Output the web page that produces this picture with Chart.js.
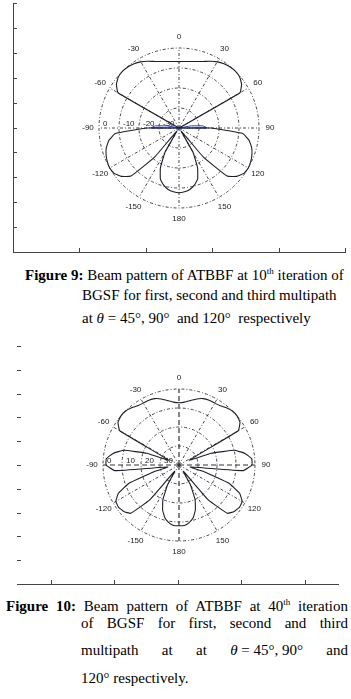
<!DOCTYPE html>
<html>
<head>
<meta charset="utf-8">
<script src="https://cdn.jsdelivr.net/npm/chart.js@4.4.0/dist/chart.umd.min.js"></script>
<style>
  body { margin: 0; background: #fff; width: 351px; height: 699px; position: relative; overflow: hidden;
         font-family: "Liberation Serif", "Times New Roman", serif; }
  .box { position: absolute; }
  .cap { position: absolute; font-size: 15px; line-height: 16px; color: #000; white-space: nowrap; }
  .just { white-space: normal; text-align: justify; text-align-last: justify; }
  .math { display: inline-block; white-space: nowrap; }
  sup { font-size: 9px; line-height: 0; vertical-align: 6px; }
</style>
</head>
<body>
<div class="box" style="left:0;top:0;width:351px;height:258px"><canvas id="frame9"></canvas></div>
<div class="box" style="left:69px;top:18px;width:220px;height:220px"><canvas id="polar9"></canvas></div>

<div class="cap" style="left:25px;top:267px"><b>Figure 9:</b> Beam pattern of ATBBF at 10<sup>th</sup> iteration of</div>
<div class="cap" style="left:82px;top:287px">BGSF for first, second and third multipath</div>
<div class="cap" style="left:82px;top:310px">at <i>θ</i> = 45°, 90° &nbsp;and 120° &nbsp;respectively</div>

<div class="box" style="left:0;top:330px;width:351px;height:262px"><canvas id="frame10"></canvas></div>
<div class="box" style="left:69px;top:355px;width:220px;height:220px"><canvas id="polar10"></canvas></div>

<div class="cap just" style="left:6px;top:598px;width:342px"><b>Figure 10:</b> Beam pattern of ATBBF at 40<sup>th</sup> iteration</div>
<div class="cap just" style="left:81px;top:615px;width:267px">of BGSF for first, second and third</div>
<div class="cap just" style="left:81px;top:642px;width:267px">multipath at at <span class="math"><i>θ</i> = 45°, 90°</span> and</div>
<div class="cap" style="left:81px;top:670px">120° respectively.</div>

<script>
// angle of each sample (deg, clockwise from top)
const angles = [0, 5, 10, 15, 20, 25, 30, 35, 40, 45, 50, 55, 60, 65, 70, 75, 80, 85,
  90, 95, 100, 105, 110, 115, 120, 125, 130, 135, 140, 145, 150, 155, 160, 165, 170, 175,
  180, 185, 190, 195, 200, 205, 210, 215, 220, 225, 230, 235, 240, 245, 250, 255, 260, 265,
  270, 275, 280, 285, 290, 295, 300, 305, 310, 315, 320, 325, 330, 335, 340, 345, 350, 355];

const spokeLabels = ['0', '30', '60', '90', '120', '150', '180', '-150', '-120', '-90', '-60', '-30'];
const ringValues = [0, -10, -20, -30];
const fig9RingLabels = ['0', '-10', '-20', '-30'];
const fig10RingLabels = ['0', '10', '20', '30'];

// beam pattern, dB (-40 = centre)
const fig9Pattern = [-6.8, -6.6, -6.2, -5.6, -4.6, -3.2, -1.8, -0.8, -0.2, 0, -0.4, -1.8, -4.8, -40, -40, -40, -40, -40,
  -24, -8, -4.4, -2.4, -1.2, -0.4, 0, -0.4, -2.4, -6, -21, -38, -26, -18, -12.8, -10.4, -8.8, -8,
  -7.6, -8, -8.8, -10.4, -12.8, -18, -26, -38, -21, -6, -2.4, -0.4, 0, -0.4, -1.2, -2.4, -4.4, -8,
  -24, -40, -40, -40, -40, -40, -4.8, -1.8, -0.4, 0, -0.2, -0.8, -1.8, -3.2, -4.6, -5.6, -6.2, -6.6];

const fig9Inner = [-40, -40, -40, -40, -40, -40, -40, -40, -40, -40, -40, -40, -40, -40, -40, -40, -34, -28,
  -26, -40, -40, -40, -40, -40, -40, -40, -40, -40, -40, -40, -40, -40, -40, -40, -40, -40,
  -40, -40, -40, -40, -40, -40, -40, -40, -40, -40, -40, -40, -40, -40, -40, -40, -40, -40,
  -26, -28, -34, -40, -40, -40, -40, -40, -40, -40, -40, -40, -40, -40, -40, -40, -40, -40];

const fig10Pattern = [-7.2, -6.8, -5.6, -4, -2.8, -2.4, -2.4, -2, -0.8, 0, 0, -0.8, -4, -34, -22, -10, -4.8, -1.6,
  -1.6, -6, -34, -26, -12, -4.8, -1.6, -1.2, -2, -4, -16, -36, -28, -20, -14.8, -11.2, -9.2, -8,
  -8, -8, -9.2, -11.2, -14.8, -20, -28, -36, -16, -4, -2, -1.2, -1.6, -4.8, -12, -26, -34, -6,
  -1.6, -1.6, -4.8, -10, -22, -34, -4, -0.8, 0, 0, -0.8, -2, -2.4, -2.4, -2.8, -4, -5.6, -6.8];

// tick marks pointing into the plot, like the old axes
const innerTicks = {
  id: 'innerTicks',
  afterDraw(chart) {
    const { ctx, scales: { x, y } } = chart;
    ctx.save();
    ctx.strokeStyle = '#444';
    ctx.lineWidth = 1;
    ctx.beginPath();
    x.ticks.forEach((t, i) => {
      const px = Math.round(x.getPixelForTick(i)) + 0.5;
      ctx.moveTo(px, x.top);
      ctx.lineTo(px, x.top - 4);
    });
    y.ticks.forEach((t, i) => {
      const py = Math.round(y.getPixelForTick(i)) + 0.5;
      ctx.moveTo(y.right, py);
      ctx.lineTo(y.right + 4, py);
    });
    ctx.stroke();
    ctx.restore();
  }
};

// spoke and ring labels for the polar plots
const polarText = {
  id: 'polarText',
  afterDraw(chart, args, opts) {
    const r = chart.scales.r;
    const ctx = chart.ctx;
    ctx.save();
    ctx.font = '8px "Liberation Sans", Arial, sans-serif';
    ctx.fillStyle = '#222';
    ctx.textAlign = 'center';
    ctx.textBaseline = 'middle';
    chart.data.labels.forEach((a, i) => {
      if (a % 30 !== 0) return;
      const p = r.getPointPosition(i, r.drawingArea + opts.gap);
      ctx.fillText(spokeLabels[a / 30], p.x, p.y);
    });
    ctx.textAlign = 'left';
    opts.ringLabels.forEach((t, k) => {
      const d = r.getDistanceFromCenterForValue(ringValues[k]);
      ctx.fillText(t, r.xCenter - d + 4, r.yCenter - 4);
    });
    ctx.restore();
  }
};

function frameChart(id, xMin, xMax, showLeft, pad) {
  return new Chart(document.getElementById(id), {
    type: 'scatter',
    data: { datasets: [] },
    options: {
      responsive: true,
      maintainAspectRatio: false,
      animation: false,
      layout: { padding: pad },
      plugins: { legend: { display: false }, tooltip: { enabled: false } },
      scales: {
        x: {
          min: xMin, max: xMax,
          ticks: { display: false, stepSize: 1, includeBounds: false },
          grid: { display: false, drawTicks: false },
          border: { display: true, color: '#444', width: 1 }
        },
        y: {
          min: 0, max: 10,
          ticks: { display: false, stepSize: 1 },
          grid: { display: false, drawTicks: false },
          border: { display: showLeft, color: '#444', width: 1 }
        }
      }
    },
    plugins: [innerTicks]
  });
}

function polarChart(id, sets, ringLabels, mainSpokes) {
  return new Chart(document.getElementById(id), {
    type: 'radar',
    data: {
      labels: angles,
      datasets: sets.map(s => ({
        data: s.values,
        borderColor: s.color,
        borderWidth: s.width,
        fill: false,
        pointRadius: 0,
        tension: 0.1
      }))
    },
    options: {
      responsive: true,
      maintainAspectRatio: false,
      animation: false,
      layout: { padding: id === 'polar9' ? 30 : 34 },
      plugins: {
        legend: { display: false },
        tooltip: { enabled: false },
        polarText: { gap: 11, ringLabels: ringLabels }
      },
      scales: {
        r: {
          min: -40,
          max: 0,
          ticks: { display: false, stepSize: 10 },
          pointLabels: { display: false },
          grid: { circular: true, color: '#333', lineWidth: 0.9 },
          border: { dash: [3, 2, 1, 2] },
          angleLines: {
            display: true,
            color: ctx => (ctx.index % 6 === 0 ? '#333' : 'rgba(0,0,0,0)'),
            lineWidth: ctx => {
              if (ctx.index % 6 !== 0) return 0;
              return mainSpokes && ctx.index % 18 === 0 ? 1.2 : 0.9;
            },
            borderDash: ctx => (mainSpokes && ctx.index % 18 === 0 ? [5, 3] : [3, 2, 1, 2])
          }
        }
      }
    },
    plugins: [polarText]
  });
}

frameChart('frame9', 0, 5, true, { left: 13, top: 3, right: 6, bottom: 6 });
polarChart('polar9', [
  { values: fig9Pattern, color: '#1e1e2a', width: 1.1 },
  { values: fig9Inner, color: '#2b3aa8', width: 1 }
], fig9RingLabels, false);

frameChart('frame10', -0.53, 4.52, false, { left: 17, top: 16, right: 13, bottom: 8 });
polarChart('polar10', [
  { values: fig10Pattern, color: '#1e1e2a', width: 1.1 }
], fig10RingLabels, true);
</script>
</body>
</html>
